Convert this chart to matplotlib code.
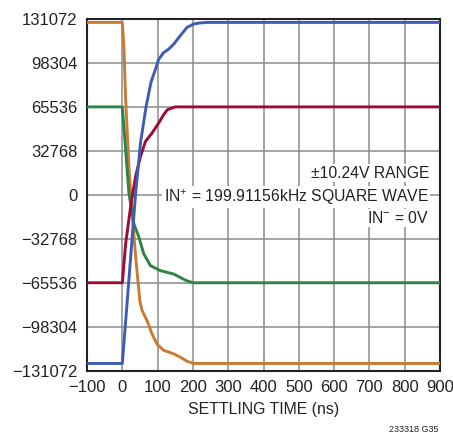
import matplotlib
matplotlib.use('Agg')
import matplotlib.pyplot as plt

plt.rcParams['font.family'] = ['Liberation Sans', 'DejaVu Sans']
plt.rcParams['mathtext.fontset'] = 'custom'
plt.rcParams['mathtext.rm'] = 'Liberation Sans'
plt.rcParams['mathtext.it'] = 'Liberation Sans'
plt.rcParams['mathtext.bf'] = 'Liberation Sans'

# settling curves (time in ns, output code)
blue_t = [-100, 0, 14, 28, 37.4, 51.4, 67.3, 81.3, 93.8, 103, 117, 131, 145.4, 164, 183, 201.7, 216, 240, 900]
blue_y = [-125700, -125700, -79000, -31500, 0, 38500, 65750, 84000, 93500, 101000, 106000, 108500,
          112250, 118500, 124750, 127250, 128000, 128500, 128500]

red_t = [-100, 0, 9.4, 23.4, 37.4, 51.4, 65.5, 84, 103, 117, 128, 150, 900]
red_y = [-65536, -65536, -36500, -9000, 13500, 28500, 39750, 46000, 53500, 59750, 63500, 65536, 65536]

green_t = [-100, 0, 9.4, 18.7, 32.7, 46.8, 60.8, 79.5, 107.5, 145, 163.6, 182, 201, 900]
green_y = [65536, 65536, 33500, 1000, -21500, -31500, -44000, -52750, -56500, -59000, -61500,
           -64000, -65536, -65536]

orange_t = [-100, 0, 4.7, 9.4, 18.7, 28, 37.4, 49.6, 56.3, 70.4, 84.5, 98.6, 117, 145.4, 164, 183, 201.7, 900]
orange_y = [128500, 128500, 108500, 71000, 21000, -14000, -45000, -79000, -86450, -93950, -103900,
            -111400, -115900, -118500, -120950, -124000, -125700, -125700]

y_ticks = [-131072, -98304, -65536, -32768, 0, 32768, 65536, 98304, 131072]
y_labels = ['\u2212131072', '\u221298304', '\u221265536', '\u221232768', '0',
            '32768', '65536', '98304', '131072']
x_ticks = [-100, 0, 100, 200, 300, 400, 500, 600, 700, 800, 900]
x_labels = ['\u2212100', '0', '100', '200', '300', '400', '500', '600', '700', '800', '900']

fig = plt.figure(figsize=(4.53, 4.36), dpi=100)
ax = fig.add_axes([0.1921, 0.1498, 0.7792, 0.8067])

ax.plot(orange_t, orange_y, color='#c97b33', lw=2.1, zorder=3)
ax.plot(green_t, green_y, color='#2e8447', lw=2.1, zorder=3)
ax.plot(red_t, red_y, color='#9e0b35', lw=2.1, zorder=4)
ax.plot(blue_t, blue_y, color='#3d5cb5', lw=2.1, zorder=4)

ax.set_xlim(-100, 900)
ax.set_ylim(-131072, 131072)
ax.set_xticks(x_ticks)
ax.set_xticklabels(x_labels)
ax.set_yticks(y_ticks)
ax.set_yticklabels(y_labels)
ax.tick_params(length=0, labelsize=12, colors='#222222', pad=7)
ax.grid(True, color='#8c8c8c', lw=1.1, zorder=1)
for s in ax.spines.values():
    s.set_linewidth(1.5)
    s.set_color('#222222')

ax.set_xlabel('SETTLING TIME (ns)', fontsize=11.4, color='#222222', labelpad=5)

box = dict(facecolor='white', edgecolor='none', pad=1.0)
ax.text(0.969, 0.562, '\u00b110.24V RANGE', transform=ax.transAxes, ha='right', va='center',
        fontsize=11.3, color='#222222', bbox=box, zorder=5)
ax.text(0.969, 0.494, r'IN$^{+}$ = 199.91156kHz SQUARE WAVE', transform=ax.transAxes, ha='right',
        va='center', fontsize=11.3, color='#222222', bbox=box, zorder=5)
ax.text(0.969, 0.434, r'IN$^{-}$ = 0V', transform=ax.transAxes, ha='right', va='center',
        fontsize=11.3, color='#222222', bbox=box, zorder=5)

fig.text(0.969, 0.004, '233318 G35', ha='right', va='bottom', fontsize=6.5, color='#222222')

fig.savefig('out.png', dpi=100)
